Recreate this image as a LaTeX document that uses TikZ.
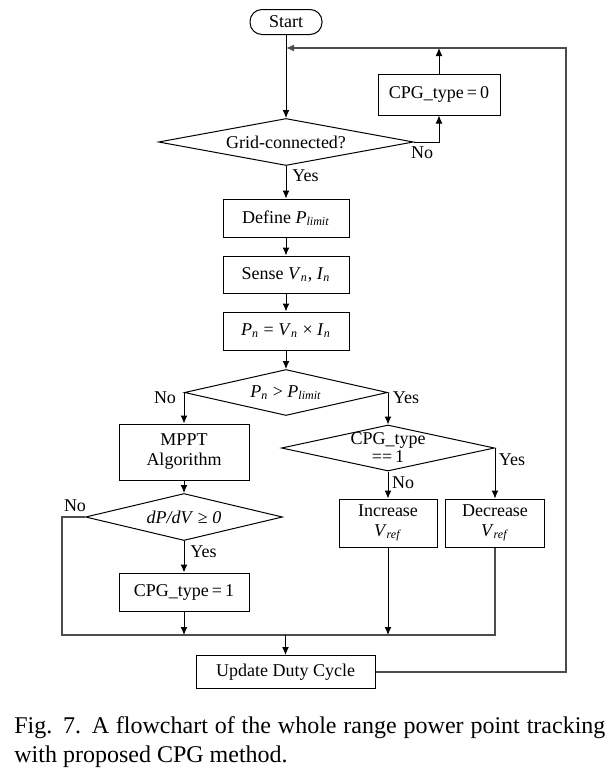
\documentclass[tikz,border=0pt]{standalone}
\usepackage{fontspec}
\setmainfont{Liberation Serif}
\usetikzlibrary{arrows.meta,positioning,shapes.geometric}

\newcommand{\lowidx}[2]{\textit{#1}\textsubscript{\textit{#2}}}

\begin{document}
\begin{tikzpicture}[
  x=0.5pt,y=-0.5pt,
  font=\fontsize{9}{10}\selectfont,
  box/.style={draw,line width=0.5pt,align=center,inner sep=1pt,minimum width=63pt,minimum height=19pt},
  term/.style={draw,line width=0.5pt,rounded corners=6pt,minimum width=36pt,minimum height=12.5pt,inner sep=1pt},
  dia/.style={diamond,draw,line width=0.5pt,inner sep=0pt,align=center,shape aspect=4.5},
  arrow/.style={-{Latex[length=4pt,width=3.5pt]},line width=0.5pt},
  bus/.style={line width=0.6pt,draw=black!70},
  lbl/.style={inner sep=1pt}
]
\useasboundingbox (0,0) rectangle (611,776);

% main column
\node[term] (start) at (286,22) {Start};
\node[dia,shape aspect=5.4,minimum width=127.5pt,minimum height=23.5pt,below=41.5pt of start] (grid) {Grid-connected?};
\node[box,below=16.25pt of grid] (define) {Define \lowidx{P}{limit}};
\node[box,minimum height=18.5pt,below=9pt of define] (sense) {Sense \lowidx{V}{n}, \lowidx{I}{n}};
\node[box,below=9pt of sense] (power) {\lowidx{P}{n} = \lowidx{V}{n} × \lowidx{I}{n}};
\node[dia,minimum width=101.5pt,minimum height=23pt,below=9.25pt of power] (cmp) {\lowidx{P}{n} > \lowidx{P}{limit}};

% side boxes
\node[box,minimum width=61pt,minimum height=20.5pt] (cpgzero) at (439,94.5) {CPG\_type\,=\,0};
\node[box,minimum width=65pt,minimum height=28pt] (mppt) at (cmp.west |- 0,452) {MPPT\\Algorithm};
\node[dia,shape aspect=4.2,minimum width=98.5pt,minimum height=23.5pt] (slope) at (mppt |- 0,517) {\textit{dP/dV} ≥ \textit{0}};
\node[box,minimum width=65pt] (cpgone) at (mppt |- 0,592) {CPG\_type\,=\,1};
\node[dia,shape aspect=4.6,minimum width=106.5pt,minimum height=23pt,inner ysep=-7pt] (cpgeq) at (cmp.east |- 0,448) {CPG\_type\\[-1pt]==\,1};
\node[box,minimum width=49pt,minimum height=24pt] (inc) at (cpgeq |- 0,523) {Increase\\\lowidx{V}{ref}};
\node[box,minimum width=49.5pt,minimum height=24pt] (dec) at (cpgeq.east |- 0,523) {Decrease\\\lowidx{V}{ref}};
\node[box,minimum width=89.5pt,minimum height=16.5pt] (update) at (285.5,672) {Update Duty Cycle};

% junctions
\coordinate (join) at (start |- 0,48);
\coordinate (corner) at (566,48);
\coordinate (busl) at (62,635);
\coordinate (busr) at (dec |- busl);
\coordinate (busm) at (update |- busl);

% connectors
\draw[arrow] (start) -- (grid);
\draw[arrow] (grid.east) -| (cpgzero.south);
\draw[arrow] (cpgzero.north) -- (cpgzero.north |- join);
\draw[arrow,bus,draw=black!70] (update.east) -| (corner) -- (join);
\draw[arrow] (grid) -- (define);
\draw[arrow] (define) -- (sense);
\draw[arrow] (sense) -- (power);
\draw[arrow] (power) -- (cmp);
\draw[arrow] (cmp.west) -- (mppt.north);
\draw[arrow] (cmp.east) -- (cpgeq.north);
\draw[arrow] (mppt) -- (slope);
\draw[arrow] (slope) -- (cpgone);
\draw[arrow] (cpgeq) -- (inc);
\draw[arrow] (cpgeq.east) -- (dec.north);
\draw[bus] (slope.west) -| (busl) -- (busr) -- (dec.south);
\draw[arrow] (cpgone.south) -- (cpgone |- busl);
\draw[arrow] (inc.south) -- (inc |- busl);
\draw[arrow] (busm) -- (update.north);

% branch labels
\node[lbl] (gridno) at (422,153) {No};
\node[lbl,anchor=west] (gridyes) at (290,176) {Yes};
\node[lbl] (cmpno) at (165,398) {No};
\node[lbl] (cmpyes) at (406,398) {Yes};
\node[lbl] (slopeno) at (75,506) {No};
\node[lbl,anchor=west] (slopeyes) at (188,552) {Yes};
\node[lbl] (cpgeqno) at (403,483) {No};
\node[lbl] (cpgeqyes) at (512,460) {Yes};

% caption
\node[anchor=base west,inner sep=0pt,font=\fontsize{12}{14.5}\selectfont] (cap1) at (14,733)
  {\makebox[295.5pt][s]{Fig. 7. A flowchart of the whole range power point tracking}};
\node[anchor=base west,inner sep=0pt,font=\fontsize{12}{14.5}\selectfont] (cap2) at (14,762)
  {with proposed CPG method.};
\end{tikzpicture}
\end{document}
